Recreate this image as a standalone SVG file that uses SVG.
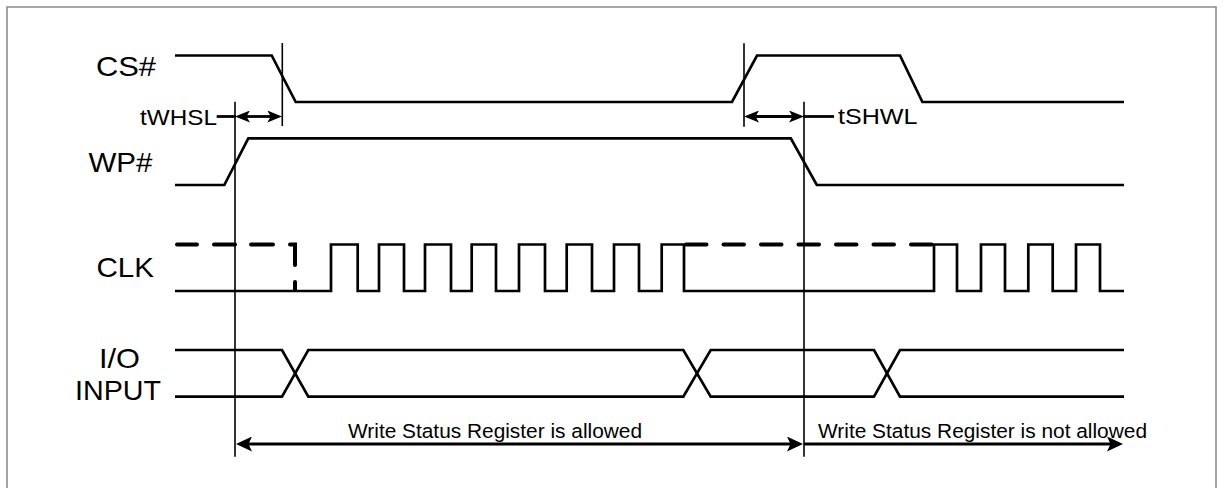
<svg xmlns="http://www.w3.org/2000/svg" width="1223" height="488" viewBox="0 0 1223 488">
<style>
.bg{fill:#ffffff}
.frame{fill:none;stroke:#8c8c8c;stroke-width:1.6}
.sig{fill:none;stroke:#000;stroke-width:2.7;stroke-linejoin:miter}
.dash{fill:none;stroke:#000;stroke-width:4;stroke-linecap:round}
.mark{fill:none;stroke:#000;stroke-width:1.6}
.arr{fill:none;stroke:#000;stroke-width:2.8}
.lbl{font-family:"Liberation Sans",Arial,sans-serif;font-size:28px;fill:#000}
.tlbl{font-family:"Liberation Sans",Arial,sans-serif;font-size:22px;fill:#000}
.blbl{font-family:"Liberation Sans",Arial,sans-serif;font-size:20.5px;fill:#000}
</style>
<defs>
<marker id="headS" viewBox="0 0 15 12" refX="5" refY="6" markerWidth="15" markerHeight="12" markerUnits="userSpaceOnUse" orient="auto-start-reverse">
<path d="M0,0 L15,6 L0,12 L3.5,6 z" fill="#000"/>
</marker>
<marker id="headL" viewBox="0 0 16 15" refX="6" refY="7.5" markerWidth="16" markerHeight="15" markerUnits="userSpaceOnUse" orient="auto-start-reverse">
<path d="M0,0 L16,7.5 L0,15 L3.5,7.5 z" fill="#000"/>
</marker>
</defs>
<rect class="bg" x="0" y="0" width="1223" height="488"/>
<path class="frame" d="M7,490 V7 H1216 V490"/>

<g id="labels">
<text class="lbl" x="96" y="76" textLength="60" lengthAdjust="spacingAndGlyphs">CS#</text>
<text class="lbl" x="88.5" y="172" textLength="64" lengthAdjust="spacingAndGlyphs">WP#</text>
<text class="lbl" x="96.5" y="277" textLength="57.5" lengthAdjust="spacingAndGlyphs">CLK</text>
<text class="lbl" x="99" y="368" textLength="41" lengthAdjust="spacingAndGlyphs">I/O</text>
<text class="lbl" x="75" y="400" textLength="86" lengthAdjust="spacingAndGlyphs">INPUT</text>
</g>

<g id="sig-cs">
<path class="sig" d="M175,55.5 H271.7 L295.7,102 H732 L757,55.5 H900 L922.4,102 H1124"/>
</g>

<g id="sig-wp">
<path class="sig" d="M175,185 H224.3 L248.3,138.3 H790.8 L816.8,185 H1124"/>
</g>

<g id="sig-clk">
<path class="sig" d="M175,291 H331 V244.5 H357.7 V291 H379 V244.5 H404 V291 H425 V244.5 H451 V291 H471.7 V244.5 H496 V291 H519 V244.5 H545 V291 H566.7 V244.5 H592 V291 H614 V244.5 H639 V291 H661.7 V244.5 H684 V291 H934 V244.5 H957 V291 H981 V244.5 H1005 V291 H1028.3 V244.5 H1052.7 V291 H1076 V244.5 H1100 V291 H1124"/>
<g id="clk-dash">
<line class="dash" x1="177" y1="244.5" x2="197" y2="244.5"/>
<line class="dash" x1="214" y1="244.5" x2="235" y2="244.5"/>
<line class="dash" x1="251" y1="244.5" x2="273" y2="244.5"/>
<path class="dash" d="M290,244.5 H295 V265"/>
<path class="dash" d="M295,282 V290"/>
<path class="dash" d="M686,244.5 H932" stroke-dasharray="20.5 17" stroke-linecap="round"/>
</g>
</g>

<g id="sig-io">
<path class="sig" d="M175,350 H282 L308.3,396.7 H683.3 L710.7,350 H874 L900,396.7 H1124"/>
<path class="sig" d="M175,396.7 H282 L308.3,350 H683.3 L710.7,396.7 H874 L900,350 H1124"/>
</g>

<g id="connectors">
<line class="mark" x1="282.3" y1="43" x2="282.3" y2="126"/>
<line class="mark" x1="235" y1="101.7" x2="235" y2="456.7"/>
<line class="mark" x1="744" y1="43.3" x2="744" y2="126.7"/>
<line class="mark" x1="804" y1="101.7" x2="804" y2="456.7"/>

<line class="arr" x1="216.7" y1="116.5" x2="236" y2="116.5"/>
<line class="arr" x1="245" y1="116.5" x2="272.3" y2="116.5" marker-start="url(#headS)" marker-end="url(#headS)"/>
<line class="arr" x1="754" y1="116.5" x2="794" y2="116.5" marker-start="url(#headS)" marker-end="url(#headS)"/>
<line class="arr" x1="803" y1="116.5" x2="834" y2="116.5"/>

<line class="arr" x1="246" y1="444" x2="793" y2="444" marker-start="url(#headL)" marker-end="url(#headL)"/>
<line class="arr" x1="804" y1="444" x2="1113" y2="444" marker-end="url(#headL)"/>
</g>

<g id="timing-labels">
<text class="tlbl" x="140" y="125" textLength="77" lengthAdjust="spacingAndGlyphs">tWHSL</text>
<text class="tlbl" x="838" y="124" textLength="79.5" lengthAdjust="spacingAndGlyphs">tSHWL</text>
<text class="blbl" x="348" y="438" textLength="294" lengthAdjust="spacingAndGlyphs">Write Status Register is allowed</text>
<text class="blbl" x="818" y="438" textLength="329" lengthAdjust="spacingAndGlyphs">Write Status Register is not allowed</text>
</g>
</svg>
